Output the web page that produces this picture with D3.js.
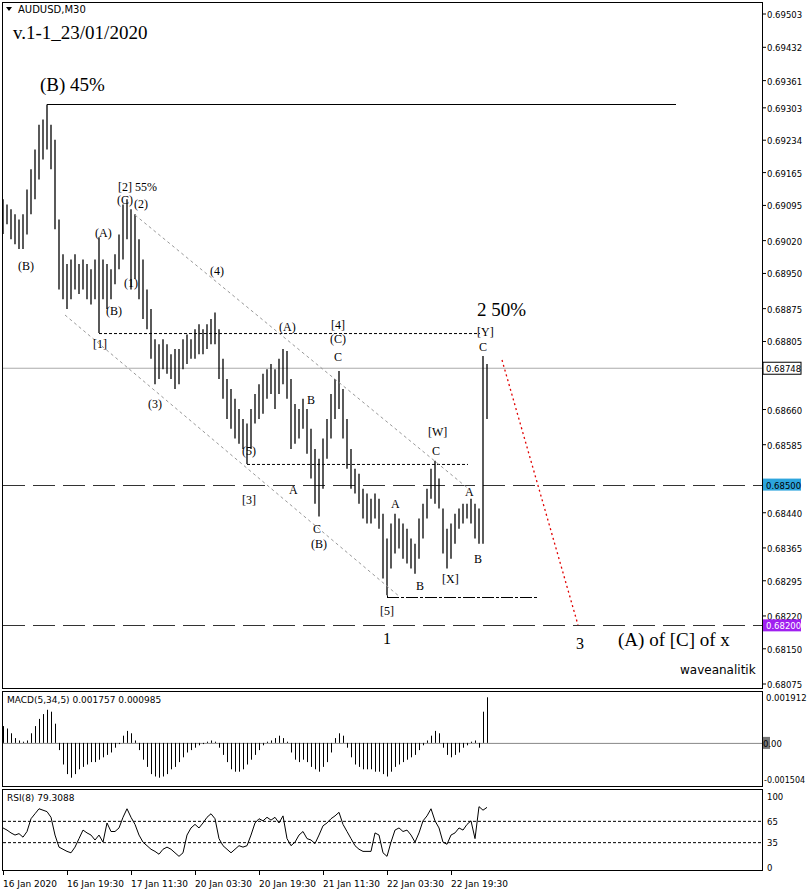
<!DOCTYPE html>
<html><head><meta charset="utf-8">
<script src="https://cdn.jsdelivr.net/npm/d3@7"></script>
<style>body{margin:0;background:#fff}svg{display:block}</style>
</head><body><svg width="807" height="894"></svg>
<script>
// price bars (x 1e-5)
const highs = [69108,69097,69087,69076,69065,69076,69129,69172,69214,69267,69278,69310,69267,69235,69065,68991,68970,68980,68991,68970,68980,68970,68959,68980,69027,68980,68970,68959,68991,69033,69097,69108,69087,69076,69023,68980,68916,68874,68810,68799,68810,68799,68778,68789,68789,68810,68820,68810,68831,68842,68831,68842,68853,68867,68831,68768,68725,68704,68683,68661,68640,68630,68661,68693,68714,68736,68746,68757,68746,68768,68789,68785,68725,68672,68661,68683,68661,68619,68576,68555,68598,68640,68693,68725,68742,68704,68640,68576,68534,68523,68491,68481,68470,68481,68470,68438,68385,68417,68438,68428,68417,68406,68385,68374,68428,68459,68491,68534,68551,68513,68449,68406,68417,68438,68449,68459,68459,68470,68459,68449,68774,68757];
const lows = [69034,69055,69023,69012,69002,69002,69033,69076,69108,69150,69193,69214,69172,69044,68916,68895,68874,68895,68916,68906,68916,68895,68884,68895,68823,68895,68874,68895,68927,68959,68980,69023,68916,68938,68895,68853,68831,68768,68714,68725,68746,68736,68725,68704,68714,68746,68757,68768,68768,68778,68778,68789,68799,68799,68725,68683,68640,68619,68598,68587,68576,68544,68576,68630,68640,68651,68683,68693,68661,68693,68714,68683,68576,68587,68598,68619,68566,68513,68459,68432,68491,68555,68598,68640,68661,68598,68534,68491,68481,68459,68428,68417,68417,68428,68406,68300,68264,68321,68353,68364,68342,68332,68321,68310,68342,68385,68428,68470,68459,68449,68353,68321,68342,68374,68406,68417,68428,68417,68385,68374,68374,68640];
const macd = [.0007,.0006,.0004,.0002,.0001,.00005,.0001,.0004,.0007,.0010,.0012,.00138,.0013,.0008,-.0003,-.0009,-.0013,-.00145,-.0013,-.0011,-.0010,-.0009,-.0008,-.0008,-.0007,-.0006,-.0005,-.0004,-.0002,-.00005,.0003,.0005,.0004,.0001,-.0003,-.0007,-.0010,-.0013,-.0014,-.00145,-.0014,-.0013,-.0011,-.0010,-.0008,-.0006,-.0004,-.0003,-.0002,-.0001,-.00005,.00005,.0001,.00005,-.0002,-.0005,-.0008,-.0011,-.0012,-.0012,-.0011,-.0009,-.0007,-.0005,-.0003,-.0001,.00005,.0001,.0002,.0003,.0002,.00005,-.0004,-.0007,-.0008,-.0007,-.0008,-.0010,-.0011,-.0012,-.0010,-.0008,-.0004,.0002,.0004,.0003,-.0002,-.0006,-.0009,-.0010,-.0011,-.0011,-.0011,-.0012,-.0012,-.0013,-.0014,-.0012,-.0010,-.0009,-.0008,-.0007,-.0006,-.0005,-.0003,-.0001,.0001,.0003,.0005,.0004,-.0002,-.0005,-.0006,-.0005,-.0004,-.0002,-.0001,.00005,.0001,-.0002,.0013,.0019];
const rsi = [55,52,48,45,47,42,50,68,75,82,80,78,70,45,28,25,22,20,28,40,52,48,45,38,45,35,62,50,50,55,70,82,70,60,45,35,30,25,22,18,25,28,25,20,15,20,45,55,60,55,62,70,75,68,40,30,25,20,25,30,28,30,45,62,68,65,70,66,70,62,72,40,30,35,45,50,40,38,33,45,58,62,68,72,77,60,50,40,30,25,22,22,22,48,45,20,15,35,52,55,50,52,45,35,48,65,72,82,65,55,35,32,45,48,55,52,60,65,40,85,80,84];
const priceTicks = [0.69503,0.69432,0.69361,0.69303,0.69234,0.69165,0.69095,0.69020,0.68950,0.68875,0.68805,0.68660,0.68585,0.68440,0.68365,0.68295,0.68220,0.68150,0.68075];
const timeLabels = ["16 Jan 2020","16 Jan 19:30","17 Jan 11:30","20 Jan 03:30","20 Jan 19:30","21 Jan 11:30","22 Jan 03:30","22 Jan 19:30"];
const lastPrice = 0.68748, level1 = 0.68500, level2 = 0.68200;

const svg = d3.select("svg");
const x = i => 3 + 4 * i;
const y = d3.scaleLinear().domain([0.68075, 0.69503]).range([684, 14]);
const ym = d3.scaleLinear().domain([-0.001504, 0.001912]).range([779, 697]);
const yr = d3.scaleLinear().domain([0, 100]).range([867, 796]);
const sans = "DejaVu Sans", serif = "Liberation Serif";

// frames
[[2,2,760,686],[2,691,760,95],[2,789,760,81]].forEach(f =>
  svg.append("rect").attr("x",f[0]+.5).attr("y",f[1]+.5).attr("width",f[2]).attr("height",f[3])
    .attr("fill","none").attr("stroke","#000"));

// horizontal levels
svg.append("line").attr("x1",3).attr("x2",762).attr("y1",y(lastPrice)).attr("y2",y(lastPrice)).attr("stroke","#aaa");
[level1, level2].forEach(l => svg.append("line").attr("x1",3).attr("x2",762).attr("y1",Math.round(y(l))+.5).attr("y2",Math.round(y(l))+.5)
  .attr("stroke","#333").attr("stroke-dasharray","22,8"));

// price bars
const g = svg.append("g").attr("stroke","#000").attr("stroke-width",1.3);
highs.forEach((h, i) => {
  g.append("line").attr("x1",x(i)).attr("x2",x(i)).attr("y1",y(h/1e5)).attr("y2",y(lows[i]/1e5));
});

// annotation lines (anchored on bars)
const ln = (x1,y1,x2,y2,st,dash,w) => svg.append("line").attr("x1",x1).attr("y1",y1).attr("x2",x2).attr("y2",y2)
  .attr("stroke",st).attr("stroke-dasharray",dash||null).attr("stroke-width",w||1);
ln(x(11)+.5,y(highs[11]/1e5),x(11)+.5,104,"#000");
ln(x(11),104.5,676,104.5,"#000",null,1.2);
ln(x(24),y(lows[24]/1e5)+.5,480,y(lows[24]/1e5)+.5,"#000","3,2");
ln(x(61),y(lows[61]/1e5)+.5,468,y(lows[61]/1e5)+.5,"#000","3,2");
ln(x(96)+.5,y(lows[96]/1e5),x(96)+.5,597,"#000");
ln(x(96),597.5,538,597.5,"#000","12,2,3,2");
ln(135,215,470,490,"#999","3,3");
ln(65,315,400,597,"#999","3,3");
ln(502,360,578,625,"#e00000","2,3",1.3);

// labels
const t = (s,px,py,size,font,col,anchor) => svg.append("text").attr("x",px).attr("y",py).text(s)
  .attr("font-family",font||serif).attr("font-size",size||12).attr("fill",col||"#000").attr("text-anchor",anchor||"start");
svg.append("path").attr("d","M6,7 L12,7 L9,11 Z").attr("fill","#000");
t("AUDUSD,M30",18,13,10,sans);
t("v.1-1_23/01/2020",13,39,19);
t("(B) 45%",40,91,19);
const lab = [["[2] 55%",118,191],["(C)",117,204],["(2)",134,208],["(A)",95,237],["(B)",18,270],["(1)",124,287],["(B)",106,315],["[1]",93,348],
 ["(3)",148,408],["(4)",210,275],["(A)",279,331],["[4]",331,329],["(C)",330,343],["C",334,361],["B",307,404],["(5)",242,455],["[3]",242,504],
 ["A",289,494],["C",313,533],["(B)",311,548],["[W]",428,436],["C",432,455],["A",391,508],["A",465,496],["B",416,590],["[X]",442,583],
 ["B",474,563],["[5]",380,615],["[Y]",477,336],["C",479,351]];
lab.forEach(l => t(l[0],l[1],l[2],12));
t("1",383,644,16); t("3",576,649,16);
t("2 50%",477,316,19);
t("(A) of [C] of x",618,646,19);
t("waveanalitik",680,674,12,sans);

// price axis
priceTicks.forEach(p => {
  ln(762,y(p),766,y(p),"#000");
  t(p.toFixed(5),767,y(p)+4,8.5,sans);
});
[[lastPrice,"#fff","#000"],[level1,"#2da5dd","#000"],[level2,"#a020f0","#fff"]].forEach(b => {
  svg.append("rect").attr("x",763).attr("y",y(b[0])-6).attr("width",38).attr("height",12).attr("fill",b[1]).attr("stroke",b[0]===lastPrice?"#000":"none");
  t(b[0].toFixed(5),766,y(b[0])+4,8.5,sans,b[2]);
});

// MACD
svg.append("line").attr("x1",3).attr("x2",762).attr("y1",ym(0)+.5).attr("y2",ym(0)+.5).attr("stroke","#888");
const mg = svg.append("g").attr("stroke","#000");
macd.forEach((v,i) => mg.append("line").attr("x1",x(i)+.5).attr("x2",x(i)+.5).attr("y1",ym(0)).attr("y2",ym(v)));
t("MACD(5,34,5) 0.001757 0.000985",7,703,9,sans);
t("0.001912",766,701,8.5,sans);
svg.append("rect").attr("x",763).attr("y",ym(0)-6).attr("width",7).attr("height",12).attr("fill","#777");
t("0.00",763,ym(0)+4,8.5,sans);
t("-0.001504",764,783,8,sans);

// RSI
[65,35].forEach(v => ln(3,yr(v)+.5,762,yr(v)+.5,"#000","3,2"));
svg.append("path").datum(rsi).attr("fill","none").attr("stroke","#000")
  .attr("d", d3.line().x((d,i)=>x(i)).y(d=>yr(d)));
t("RSI(8) 79.3088",7,801,9,sans);
[100,65,35,0].forEach(v => t(String(v),767,yr(v)+4,8.5,sans));

// time axis
timeLabels.forEach((s,j) => {
  ln(x(16*j)+.5,871,x(16*j)+.5,875,"#000");
  t(s,x(16*j),887,9,sans);
});
</script></body></html>
